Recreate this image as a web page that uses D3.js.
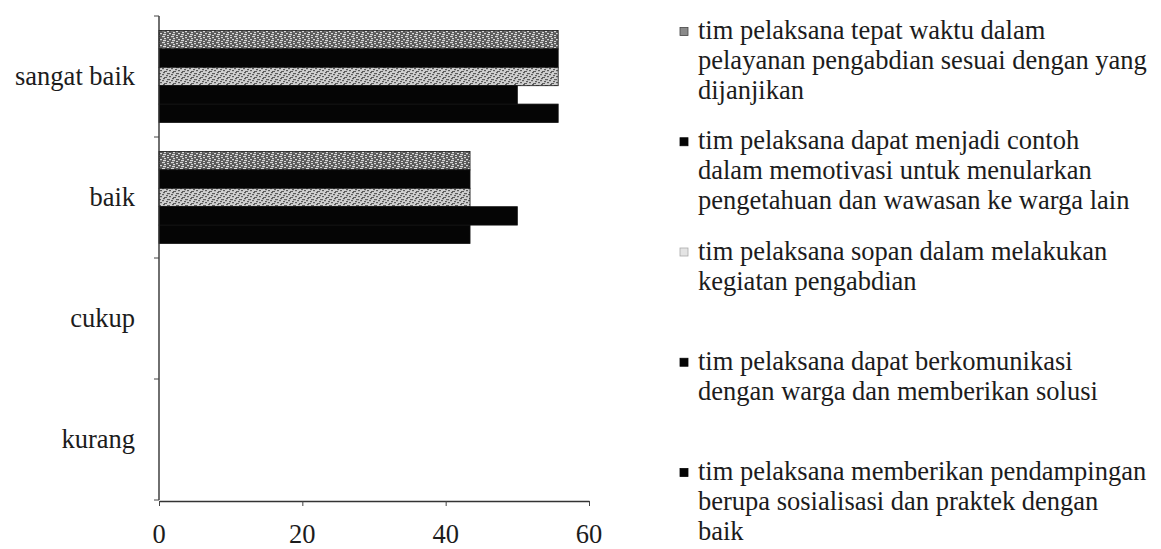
<!DOCTYPE html>
<html><head><meta charset="utf-8">
<script src="https://cdn.jsdelivr.net/npm/d3@7"></script>
</head>
<body style="margin:0">
<svg id="c" width="1161" height="549"></svg>
<script>
// ---- data ----
const categories = ["sangat baik", "baik", "cukup", "kurang"];
const seriesNames = [
  "tim pelaksana tepat waktu dalam pelayanan pengabdian sesuai dengan yang dijanjikan",
  "tim pelaksana dapat menjadi contoh dalam memotivasi untuk menularkan pengetahuan dan wawasan ke warga lain",
  "tim pelaksana sopan dalam melakukan kegiatan pengabdian",
  "tim pelaksana dapat berkomunikasi dengan warga dan memberikan solusi",
  "tim pelaksana memberikan pendampingan berupa sosialisasi dan praktek dengan baik"
];
const legendLines = [
  ["tim pelaksana tepat waktu dalam", "pelayanan pengabdian sesuai dengan yang", "dijanjikan"],
  ["tim pelaksana dapat menjadi contoh", "dalam memotivasi untuk menularkan", "pengetahuan dan wawasan ke warga lain"],
  ["tim pelaksana sopan dalam melakukan", "kegiatan pengabdian"],
  ["tim pelaksana dapat berkomunikasi", "dengan warga dan memberikan solusi"],
  ["tim pelaksana memberikan pendampingan", "berupa sosialisasi dan praktek dengan", "baik"]
];
// values per series, in category order [sangat baik, baik, cukup, kurang]
const tepatWaktu    = [55.7, 43.4, 0, 0];
const menjadiContoh = [55.7, 43.4, 0, 0];
const sopan         = [55.7, 43.4, 0, 0];
const berkomunikasi = [50, 50, 0, 0];
const pendampingan  = [55.7, 43.4, 0, 0];
const seriesValues = [tepatWaktu, menjadiContoh, sopan, berkomunikasi, pendampingan];
const xTicks = [0, 20, 40, 60];

// ---- drawing ----
const FONT = "Liberation Serif";
const FS = 26.5;
const TXT = "#1c1c1c";
const svg = d3.select("#c");
const defs = svg.append("defs");

function speckle(id, base, spots, spotColor) {
  const p = defs.append("pattern").attr("id", id)
    .attr("patternUnits", "userSpaceOnUse").attr("width", 9).attr("height", 6);
  p.append("rect").attr("width", 9).attr("height", 6).attr("fill", base);
  spots.forEach(s => p.append("rect").attr("x", s[0]).attr("y", s[1])
    .attr("width", s[2]).attr("height", 1.2).attr("fill", spotColor));
}
speckle("pDark", "#5a5a5a", [[0,0,3],[5,1,2],[2,2,2],[7,3,2],[1,4,3],[5,5,2]], "#d8d8d8");
speckle("pLight", "#cfcfcf", [[1,0,2],[5,1,3],[0,2,2],[4,3,2],[7,4,2],[2,5,3]], "#5c5c5c");

const fills = ["url(#pDark)", "#050505", "url(#pLight)", "#050505", "#050505"];
const legendFills = ["#8a8a8a", "#050505", "#e4e4e4", "#050505", "#050505"];
const legendStrokes = ["#444", "#050505", "#aaa", "#050505", "#050505"];

const x = d3.scaleLinear().domain([0, 60]).range([159, 589]);
const y0 = d3.scaleBand().domain(categories).range([16, 500]).padding(0);
const y1 = d3.scaleBand().domain(d3.range(seriesNames.length))
  .range([0, y0.bandwidth()]).paddingInner(0).paddingOuter(0.79);

categories.forEach((cat, ci) => {
  seriesValues.forEach((vals, si) => {
    if (vals[ci] <= 0) return;
    svg.append("rect")
      .attr("x", x(0))
      .attr("y", y0(cat) + y1(si))
      .attr("width", x(vals[ci]) - x(0))
      .attr("height", y1.bandwidth())
      .attr("fill", fills[si])
      .attr("stroke", "#111").attr("stroke-width", 0.8);
  });
});

// x axis (line and ticks from d3 axis, labels as text positioned with the scale)
const xAxis = svg.append("g").attr("transform", "translate(0,501)")
  .call(d3.axisBottom(x).tickValues(xTicks).tickSize(5).tickFormat("").tickSizeOuter(0));
xAxis.select(".domain").attr("stroke", "#333").attr("stroke-width", 1.4);
xAxis.selectAll(".tick line").attr("stroke", "#444");
xTicks.forEach(v => {
  svg.append("text").attr("x", x(v)).attr("y", 543).attr("text-anchor", "middle")
    .attr("font-family", FONT).attr("font-size", FS).attr("fill", TXT).text(String(v));
});

// y axis
svg.append("line").attr("x1", x(0)).attr("x2", x(0)).attr("y1", y0.range()[0]).attr("y2", y0.range()[1])
  .attr("stroke", "#333").attr("stroke-width", 1.4);
const bounds = categories.map(c => y0(c)).concat([y0.range()[1]]);
bounds.forEach(b => {
  svg.append("line").attr("x1", x(0) - 5).attr("x2", x(0)).attr("y1", b).attr("y2", b)
    .attr("stroke", "#444").attr("stroke-width", 1);
});
categories.forEach(c => {
  svg.append("text").attr("x", 135).attr("y", y0(c) + y0.bandwidth() / 2 + 8)
    .attr("text-anchor", "end").attr("font-family", FONT).attr("font-size", FS)
    .attr("fill", TXT).text(c);
});

// legend
const ly = d3.scalePoint().domain(d3.range(seriesNames.length)).range([32, 473]);
legendLines.forEach((lines, i) => {
  const cy = ly(i);
  svg.append("rect").attr("x", 680).attr("y", cy - 4.5).attr("width", 8).attr("height", 8)
    .attr("fill", legendFills[i]).attr("stroke", legendStrokes[i]).attr("stroke-width", 0.8);
  lines.forEach((t, k) => {
    svg.append("text").attr("x", 698).attr("y", cy + 7 + k * 30)
      .attr("font-family", FONT).attr("font-size", FS).attr("fill", TXT).text(t);
  });
});
</script>
</body></html>
